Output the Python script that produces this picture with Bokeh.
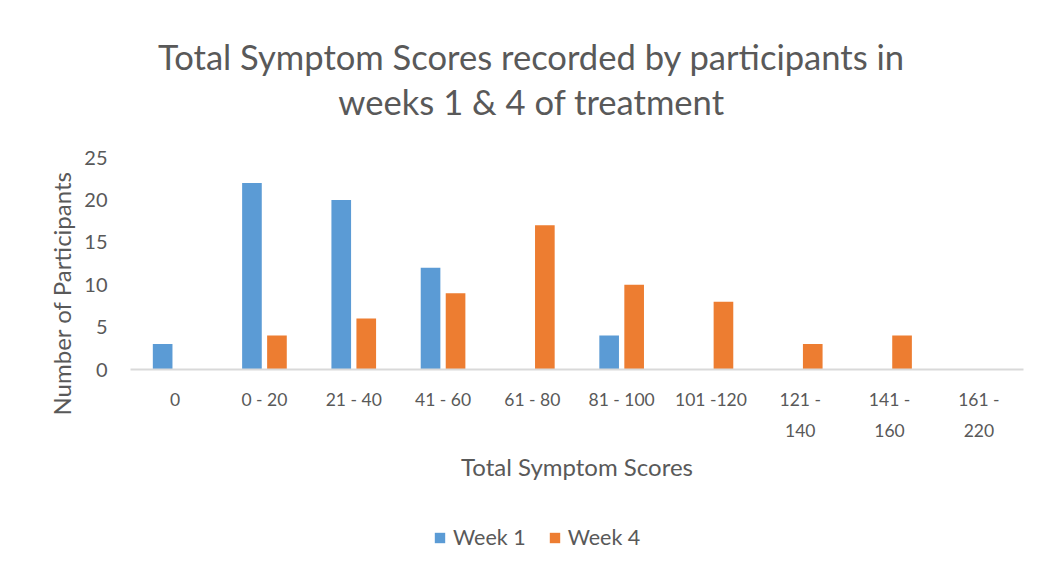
from bokeh.plotting import figure
from bokeh.models import FactorRange, Range1d, Title, Label, Legend, LegendItem, ColumnDataSource
from bokeh.layouts import column
from bokeh.transform import dodge
from bokeh.embed import file_html
from bokeh.resources import INLINE

categories = ["0", "0 - 20", "21 - 40", "41 - 60", "61 - 80", "81 - 100",
              "101 -120", "121 -\n140", "141 -\n160", "161 -\n220"]
week1 = [3, 22, 20, 12, 0, 4, 0, 0, 0, 0]
week4 = [0, 4, 6, 9, 17, 10, 8, 3, 4, 0]
y_ticks = [0, 5, 10, 15, 20, 25]
title_lines = ["Total Symptom Scores recorded by participants in", "weeks 1 & 4 of treatment"]
series_names = ["Week 1", "Week 4"]
colors = ["#5B9BD5", "#ED7D31"]

FONT = "Lato"
GRAY = "#595959"
W = 1036
FL, FR = 130, 1023   # frame edges in page pixels (frames are aligned in the column)

src = ColumnDataSource(dict(cat=categories, w1=week1, w4=week4))

# ---- title strip ----
tf = figure(width=W, height=130, x_range=Range1d(FL, FR), y_range=Range1d(130, 0),
            output_backend="svg", toolbar_location=None,
            x_axis_location=None, y_axis_location=None, min_border=0)
tf.outline_line_color = None
tf.grid.grid_line_color = None
for txt, y in zip(title_lines, [56, 101]):
    tf.add_layout(Label(x=531, y=y, text=txt, text_align="center", text_baseline="middle",
                        text_font=FONT, text_font_size="34.6px", text_color=GRAY))

# ---- main chart ----
p = figure(x_range=FactorRange(factors=categories), y_range=Range1d(0, 25),
           width=W, height=385, output_backend="svg", toolbar_location=None,
           min_border_left=FL, min_border_right=W - FR, min_border_top=27,
           min_border_bottom=146)
p.outline_line_color = None
p.grid.grid_line_color = None

p.vbar(x=dodge("cat", -0.14, range=p.x_range), top="w1", width=0.22,
       source=src, fill_color=colors[0], line_color=None)
p.vbar(x=dodge("cat", 0.14, range=p.x_range), top="w4", width=0.22,
       source=src, fill_color=colors[1], line_color=None)

p.yaxis.ticker = y_ticks
p.yaxis.axis_line_color = None
p.yaxis.major_tick_line_color = None
p.yaxis.minor_tick_line_color = None
p.yaxis.major_label_text_font = FONT
p.yaxis.major_label_text_font_size = "20px"
p.yaxis.major_label_text_color = GRAY
p.yaxis.major_label_standoff = 17

p.xaxis.axis_line_color = "#d9d9d9"
p.xaxis.axis_line_width = 2
p.xaxis.major_tick_line_color = None
p.xaxis.minor_tick_line_color = None
p.xaxis.major_label_text_font = FONT
p.xaxis.major_label_text_font_size = "17.5px"
p.xaxis.major_label_text_line_height = 1.5
p.xaxis.major_label_text_color = GRAY
p.xaxis.major_label_standoff = 13
p.xaxis.axis_label = "Total Symptom Scores"
p.xaxis.axis_label_text_font = FONT
p.xaxis.axis_label_text_font_size = "24px"
p.xaxis.axis_label_text_font_style = "normal"
p.xaxis.axis_label_text_color = GRAY
p.xaxis.axis_label_standoff = 8

ylab = Title(text="Number of Participants", align="left", offset=-46,
             text_font=FONT, text_font_size="24px", text_font_style="normal",
             text_color=GRAY, standoff=12)
p.add_layout(ylab, "left")

# ---- legend strip ----
lf = figure(width=W, height=41, x_range=FactorRange(factors=categories), y_range=Range1d(0, 1),
            output_backend="svg", toolbar_location=None,
            x_axis_location=None, y_axis_location=None, min_border=0)
lf.outline_line_color = None
lf.grid.grid_line_color = None
lr1 = lf.vbar(x=dodge("cat", -0.14, range=lf.x_range), top="w1", width=0.22,
              source=src, fill_color=colors[0], line_color=None, visible=False)
lr4 = lf.vbar(x=dodge("cat", 0.14, range=lf.x_range), top="w4", width=0.22,
              source=src, fill_color=colors[1], line_color=None, visible=False)
legend = Legend(items=[LegendItem(label=series_names[0], renderers=[lr1]),
                       LegendItem(label=series_names[1], renderers=[lr4])],
                orientation="horizontal", location=(433 - FL, 6),
                border_line_color=None, background_fill_alpha=0,
                inactive_fill_alpha=0,
                padding=0, margin=0, spacing=22, label_standoff=7,
                glyph_width=13, glyph_height=13,
                label_text_font=FONT, label_text_font_size="21.5px",
                label_text_color=GRAY)
lf.add_layout(legend, "center")

layout = column(tf, p, lf, spacing=0)
open("out.html", "w").write(file_html(layout, INLINE))
